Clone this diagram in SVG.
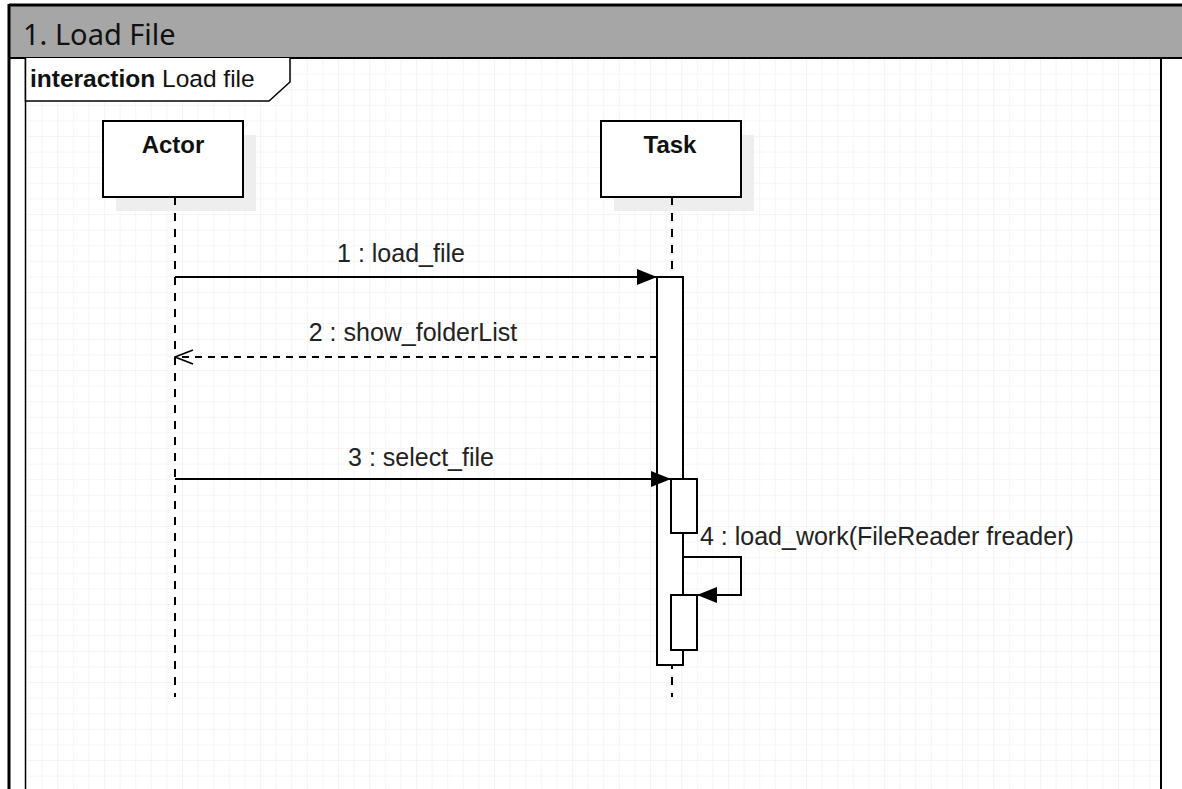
<svg xmlns="http://www.w3.org/2000/svg" width="1182" height="789" viewBox="0 0 1182 789">
  <defs>
    <pattern id="grid" x="26" y="58" width="15.6" height="15.6" patternUnits="userSpaceOnUse">
      <path d="M0 0 H15.6 M0 0 V15.6" fill="none" stroke="#ececec" stroke-width="1"/>
    </pattern>
    <marker id="filled" viewBox="0 0 20 16" refX="20" refY="8" markerWidth="20" markerHeight="16" markerUnits="userSpaceOnUse" orient="auto">
      <path d="M0 0 L20 8 L0 16 Z" fill="#000"/>
    </marker>
    <marker id="open" viewBox="0 0 20 20" refX="19" refY="10" markerWidth="20" markerHeight="20" markerUnits="userSpaceOnUse" orient="auto">
      <path d="M1 3 L19 10 L1 17" fill="none" stroke="#000" stroke-width="1.8"/>
    </marker>
  </defs>
  <style>
    .lbl { font-family: "Liberation Sans", Arial, sans-serif; font-size: 25px; fill: #222; }
    .head { font-family: "Liberation Sans", Arial, sans-serif; font-size: 24px; font-weight: bold; fill: #111; }
    .box { fill: #fff; stroke: #000; stroke-width: 2; }
    .shadow { fill: #eeeeee; }
    .life { stroke: #000; stroke-width: 2; stroke-dasharray: 8 8; fill: none; }
    .msg { stroke: #000; stroke-width: 2; fill: none; }
    .ret { stroke: #000; stroke-width: 2; stroke-dasharray: 7 6; fill: none; }
  </style>
  <rect width="1182" height="789" fill="#fff"/>
  <!-- grid area -->
  <rect x="26" y="58" width="1135" height="731" fill="url(#grid)"/>
  <!-- header -->
  <rect x="9" y="5" width="1173" height="53" fill="#a6a6a6"/>
  <line x1="9" y1="5" x2="1182" y2="5" stroke="#000" stroke-width="3"/>
  <line x1="9" y1="58" x2="1182" y2="58" stroke="#000" stroke-width="2"/>
  <line x1="9" y1="4" x2="9" y2="789" stroke="#000" stroke-width="3"/>
  <text x="23" y="45" font-family="'Noto Sans', 'Open Sans', sans-serif" font-size="29" fill="#111">1. Load File</text>
  <!-- interaction frame -->
  <g id="frame">
    <line x1="25.5" y1="58" x2="25.5" y2="789" stroke="#000" stroke-width="1.5"/>
    <line x1="1161" y1="58" x2="1161" y2="789" stroke="#000" stroke-width="2"/>
    <path d="M25.5 58 V101 H269 L290 82 V58" fill="#fff" stroke="#000" stroke-width="1.5"/>
    <text x="30" y="87" font-family="'Liberation Sans', Arial, sans-serif" font-size="24.5" fill="#111"><tspan font-weight="bold">interaction</tspan> Load file</text>
  </g>
  <!-- lifelines -->
  <g id="actor">
    <rect class="shadow" x="116" y="135" width="140" height="76"/>
    <rect class="box" x="103" y="121" width="140" height="76"/>
    <text class="head" x="173" y="153" text-anchor="middle">Actor</text>
    <line class="life" x1="175" y1="197" x2="175" y2="697"/>
  </g>
  <g id="task">
    <rect class="shadow" x="614" y="135" width="140" height="76"/>
    <rect class="box" x="601" y="121" width="140" height="76"/>
    <text class="head" x="670" y="153" text-anchor="middle">Task</text>
    <line class="life" x1="672" y1="197" x2="672" y2="697"/>
    <rect class="box" x="657" y="277" width="26" height="388"/>
    <rect class="box" x="671" y="479" width="26" height="54"/>
    <rect class="box" x="671" y="595" width="26" height="55"/>
  </g>
  <!-- connectors -->
  <g id="connectors">
    <line class="msg" x1="175" y1="277" x2="657" y2="277" marker-end="url(#filled)"/>
    <text class="lbl" x="401" y="262" text-anchor="middle">1 : load_file</text>
    <line class="ret" x1="657" y1="357" x2="175" y2="357" marker-end="url(#open)"/>
    <text class="lbl" x="413" y="341" text-anchor="middle">2 : show_folderList</text>
    <line class="msg" x1="175" y1="479" x2="671" y2="479" marker-end="url(#filled)"/>
    <text class="lbl" x="421" y="466" text-anchor="middle">3 : select_file</text>
    <path class="msg" d="M683 557 H741 V595 H697" marker-end="url(#filled)"/>
    <text class="lbl" x="700" y="545">4 : load_work(FileReader freader)</text>
  </g>
</svg>
